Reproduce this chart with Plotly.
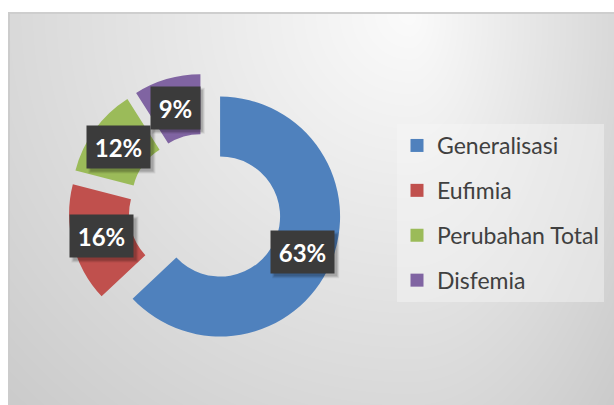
import base64
import struct
import zlib

import numpy as np
import plotly.graph_objects as go

# ---------------- data ----------------
categories = ["Generalisasi", "Eufimia", "Perubahan Total", "Disfemia"]
values = [63, 16, 12, 9]
pct_labels = ["63%", "16%", "12%", "9%"]
colors = ["#4F81BD", "#C0504D", "#9BBB59", "#8064A2"]

# ---------------- layout constants ----------------
W, H = 614, 405
PULL = 0.137
HOLE = 0.5
R = 120.0
CX, CY = 205.0, 210.0          # pie box centre in pixels (from top-left)
half = R * (1 + PULL)
dom_x = [(CX - half) / W, (CX + half) / W]
dom_y = [(H - CY - half) / H, (H - CY + half) / H]


# ---------------- background gradient image ----------------
def png_gray(arr):
    h, w = arr.shape
    raw = b"".join(b"\x00" + arr[i].tobytes() for i in range(h))

    def chunk(tag, data):
        c = struct.pack(">I", len(data)) + tag + data
        return c + struct.pack(">I", zlib.crc32(tag + data) & 0xFFFFFFFF)

    return (b"\x89PNG\r\n\x1a\n"
            + chunk(b"IHDR", struct.pack(">IIBBBBB", w, h, 8, 0, 0, 0, 0))
            + chunk(b"IDAT", zlib.compress(raw, 9))
            + chunk(b"IEND", b""))


yy, xx = np.mgrid[0:H, 0:W].astype(float)
fx, fy = 410.0, 13.0
u = np.where(xx < fx, (fx - xx) / (fx - 9), (xx - fx) / (W - fx))
v = (yy - fy) / (H - fy)
t = np.sqrt(u ** 2 + v ** 2)
bg = np.clip(251 - 34 * t, 198, 252)
bg[:12, :] = 255
bg[:, :8] = 255
bg[12:14, 8:] = 206
bg[12:, 8:10] = 204
bg = bg.astype(np.uint8)
bg_uri = "data:image/png;base64," + base64.b64encode(png_gray(bg)).decode()

fig = go.Figure()

fig.add_trace(go.Pie(
    labels=categories,
    values=values,
    sort=False,
    direction="clockwise",
    rotation=0,
    hole=HOLE,
    pull=[PULL] * len(values),
    marker=dict(colors=colors, line=dict(width=0)),
    textinfo="none",
    hoverinfo="label+percent",
    showlegend=False,
    domain=dict(x=dom_x, y=dom_y),
))

# legend entries (one group per category so spacing can be controlled)
for cat, col in zip(categories, colors):
    fig.add_trace(go.Scatter(
        x=[None], y=[None], mode="markers", name=cat,
        marker=dict(symbol="square", size=13, color=col),
        legendgroup=cat, showlegend=True, hoverinfo="skip",
    ))

# ---------------- data labels (boxes at ring centre of each slice) ----------------
annotations = []
shapes = []
total = float(sum(values))
cum = 0.0
for val, lab in zip(values, pct_labels):
    mid = np.deg2rad(360.0 * (cum + val / 2.0) / total)
    cum += val
    dist = PULL * R + (1 + HOLE) / 2.0 * R
    px = CX + dist * np.sin(mid)
    py = CY - dist * np.cos(mid)
    xp, yp = px / W, 1 - py / H
    wbox = 14 * len(lab) + 9
    bw, bh = wbox + 12, 42
    # soft drop shadow behind the label box
    for k, alpha in ((4, 0.07), (3, 0.10), (2, 0.12)):
        shapes.append(dict(
            type="rect", xref="paper", yref="paper",
            xsizemode="pixel", ysizemode="pixel", xanchor=xp, yanchor=yp,
            x0=-bw / 2 + 3 - k + 2, x1=bw / 2 + 3 + k - 2,
            y0=-bh / 2 - 3 - k + 2, y1=bh / 2 - 3 + k - 2,
            fillcolor="rgba(0,0,0,%.2f)" % alpha, line=dict(width=0),
            layer="above",
        ))
    annotations.append(dict(
        x=xp, y=yp, xref="paper", yref="paper", showarrow=False,
        xanchor="center", yanchor="middle", text="<b>%s</b>" % lab,
        borderpad=6, width=wbox, height=30,
        font=dict(family="Lato", size=24, color="#FFFFFF"),
        bgcolor="#3B3B3B",
    ))

fig.update_layout(
    width=W, height=H,
    margin=dict(l=0, r=0, t=0, b=0),
    paper_bgcolor="#FFFFFF",
    plot_bgcolor="rgba(0,0,0,0)",
    xaxis=dict(visible=False),
    yaxis=dict(visible=False),
    images=[dict(source=bg_uri, xref="paper", yref="paper", x=0, y=1,
                 sizex=1, sizey=1, xanchor="left", yanchor="top",
                 sizing="stretch", layer="below")],
    annotations=annotations,
    shapes=shapes,
    showlegend=True,
    legend=dict(
        x=397 / W, y=1 - 124 / H, xanchor="left", yanchor="top",
        font=dict(family="Lato", size=23, color="#404040"),
        bgcolor="rgba(246,246,246,0.45)",
        tracegroupgap=12,
        itemclick=False, itemdoubleclick=False,
    ),
)

fig.write_html(
    "out.html",
    config={"displayModeBar": False},
    post_script="document.body.style.margin='0';document.body.style.padding='0';",
)
